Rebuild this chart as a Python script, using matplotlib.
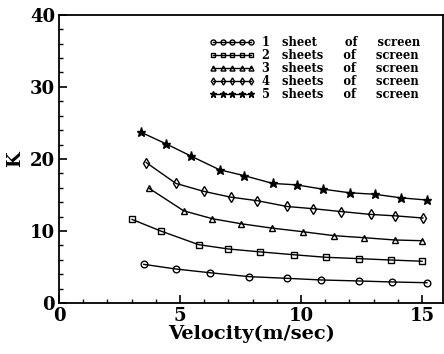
import matplotlib
matplotlib.use("Agg")
import matplotlib.pyplot as plt
from matplotlib.ticker import MultipleLocator

v1 = [3.5, 4.83, 6.25, 7.86, 9.41, 10.84, 12.4, 13.77, 15.2]
k1 = [5.37, 4.72, 4.2, 3.66, 3.43, 3.2, 3.06, 2.92, 2.82]
v2 = [3.02, 4.2, 5.77, 7.0, 8.31, 9.71, 11.02, 12.4, 13.7, 15.0]
k2 = [11.6, 10.0, 8.1, 7.5, 7.1, 6.7, 6.35, 6.16, 5.97, 5.8]
v3 = [3.73, 5.15, 6.34, 7.53, 8.8, 10.07, 11.36, 12.6, 13.87, 15.0]
k3 = [15.9, 12.8, 11.7, 11.0, 10.4, 9.9, 9.35, 9.07, 8.75, 8.65]
v4 = [3.6, 4.83, 5.98, 7.09, 8.2, 9.42, 10.48, 11.65, 12.87, 13.9, 15.04]
k4 = [19.5, 16.6, 15.5, 14.7, 14.2, 13.4, 13.1, 12.7, 12.3, 12.1, 11.8]
v5 = [3.39, 4.42, 5.45, 6.63, 7.63, 8.83, 9.82, 10.91, 12.02, 13.04, 14.13, 15.19]
k5 = [23.7, 22.1, 20.4, 18.5, 17.7, 16.6, 16.4, 15.8, 15.3, 15.1, 14.6, 14.3]

labels = ["1   sheet       of     screen", "2   sheets     of     screen",
          "3   sheets     of     screen", "4   sheets     of     screen",
          "5   sheets     of     screen"]
xticks = [0, 5, 10, 15]
yticks = [0, 10, 20, 30, 40]

plt.rcParams['font.family'] = ['DejaVu Serif']
plt.rcParams['font.weight'] = 'bold'

fig = plt.figure(figsize=(4.44, 3.54), dpi=100)
ax = fig.add_axes([0.133, 0.144, 0.865, 0.814])

series = [(v1, k1, 'o', 'none'), (v2, k2, 's', 'none'), (v3, k3, '^', 'none'),
          (v4, k4, 'd', 'none'), (v5, k5, '*', 'black')]
for (v, k, m, fc), lab in zip(series, labels):
    ms = 6.5 if m == '*' else 4.8
    ax.plot(v, k, color='black', lw=1.0, marker=m, markersize=ms,
            markerfacecolor=fc, markeredgecolor='black', markeredgewidth=1.0, label=lab)

ax.set_xlim(0, 15.87)
ax.set_ylim(0, 40)
ax.set_xticks(xticks)
ax.set_yticks(yticks)
ax.xaxis.set_minor_locator(MultipleLocator(1))
ax.yaxis.set_minor_locator(MultipleLocator(2))
ax.tick_params(which='both', direction='in', top=False, right=False, labelsize=13)
ax.tick_params(which='major', length=6, width=1.2, pad=3)
ax.tick_params(which='minor', length=3, width=1)
for s in ax.spines.values():
    s.set_linewidth(1.3)

ax.set_xlabel("Velocity(m/sec)", fontsize=14, fontweight='bold', labelpad=0)
ax.set_ylabel("K", fontsize=13, fontweight='bold', labelpad=4)

leg = ax.legend(loc='upper right', bbox_to_anchor=(0.94, 0.925), frameon=False,
                numpoints=5, markerscale=0.75, handlelength=3.9, handletextpad=0.6,
                labelspacing=0.0, fontsize=8.3, borderaxespad=0, borderpad=0)
for t in leg.get_texts():
    t.set_fontweight('bold')

fig.savefig("out.png", dpi=100)
